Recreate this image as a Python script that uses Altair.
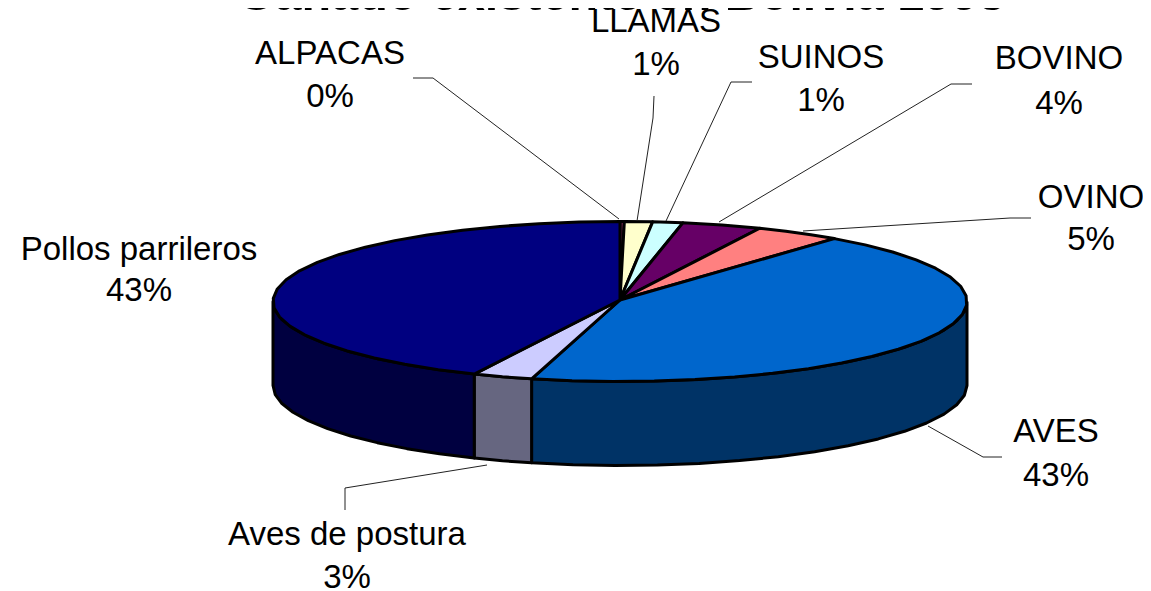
import math
import altair as alt
import pandas as pd

# --- values
categories = ["ALPACAS", "LLAMAS", "SUINOS", "BOVINO", "OVINO", "AVES", "Aves de postura", "Pollos parrileros"]
shares = [0.2, 1.3, 1.4, 3.7, 4.0, 43.5, 2.8, 43.1]
pct_labels = ["0%", "1%", "1%", "4%", "5%", "43%", "3%", "43%"]
top_colors = ["#993366", "#FFFFCC", "#CCFFFF", "#660066", "#FF8080", "#0066CC", "#CCCCFF", "#000080"]
side_colors = ["#4D1A33", "#808066", "#668080", "#330033", "#804040", "#003366", "#666680", "#000040"]

# label anchors (centre x, baseline y of name, baseline y of percentage)
label_x = [330, 656, 821, 1059, 1091, 1056, 347, 139]
name_y = [64, 32, 68, 69, 208, 442, 545, 260]
pct_y = [107, 75, 111, 114, 250, 486, 588, 301]
# leader lines
leaders = [
    [(413, 78), (433, 78), (619, 219)],
    [(654, 96), (653, 118), (637, 221)],
    [(752, 82), (731, 82), (666, 221)],
    [(972, 84), (951, 84), (719, 222)],
    [(1031, 218), (1010, 218), (803, 231)],
    [(1002, 457), (983, 457), (928, 426)],
    [(345, 510), (345, 488), (487, 465)],
]
title_text = "Ganado existente en Bolivia 1998"

# pie geometry
CX, CY, A, B, DEPTH = 620, 301.5, 347, 80, 84
AX, AY = 620, 300
STEP = 7.0


def pt(deg, dy=0.0):
    r = math.radians(deg)
    return CX + A * math.sin(r), CY - B * math.cos(r) + dy


def arc(a0, a1):
    n = max(1, int(math.ceil((a1 - a0) / STEP)))
    return [a0 + (a1 - a0) * i / n for i in range(n + 1)]


tops, walls = [], []
start = 0.0
total = sum(shares)
for cat, s, tc, sc in zip(categories, shares, top_colors, side_colors):
    end = start + 360 * s / total
    poly = [(AX, AY)] + [pt(d) for d in arc(start, end)] + [(AX, AY)]
    for i, (x, y) in enumerate(poly):
        tops.append(dict(k=cat, i=i, x=x, y=y, f=tc))
    a0, a1 = max(start, 90.0), min(end, 270.0)
    if a1 > a0:
        ds = arc(a0, a1)
        poly = [pt(d) for d in ds] + [pt(d, DEPTH) for d in reversed(ds)]
        poly.append(poly[0])
        for i, (x, y) in enumerate(poly):
            walls.append(dict(k=cat, i=i, x=x, y=y, f=sc))
    start = end

W, H = 1135, 583
xs = alt.Scale(domain=[8, 8 + W], range=[0, W], nice=False, zero=False)
ys = alt.Scale(domain=[8, 8 + H], range=[0, H], nice=False, zero=False)
X = lambda f="x": alt.X(f"{f}:Q", scale=xs, axis=None)
Y = lambda f="y": alt.Y(f"{f}:Q", scale=ys, axis=None)


def polys(rows):
    return alt.Chart(pd.DataFrame(rows)).mark_line(
        stroke="black", strokeWidth=3, strokeJoin="round"
    ).encode(
        x=X(), y=Y(), order="i:Q", detail="k:N",
        fill=alt.Fill("f:N", scale=None),
    )


lead_rows = [dict(k=n, i=i, x=p[0], y=p[1]) for n, l in enumerate(leaders) for i, p in enumerate(l)]
lead = alt.Chart(pd.DataFrame(lead_rows)).mark_line(stroke="#222222", strokeWidth=1).encode(
    x=X(), y=Y(), order="i:Q", detail="k:N"
)

text_rows = []
for c, p, lx, ny, py in zip(categories, pct_labels, label_x, name_y, pct_y):
    text_rows.append(dict(t=c, x=lx, y=ny))
    text_rows.append(dict(t=p, x=lx, y=py))
labels = alt.Chart(pd.DataFrame(text_rows)).mark_text(
    font="Liberation Sans", fontSize=33, color="black", align="center", baseline="alphabetic"
).encode(x=X(), y=Y(), text="t:N")

title = alt.Chart(pd.DataFrame([dict(t=title_text, x=621, y=10)])).mark_text(
    font="Liberation Sans", fontSize=48.5, fontWeight="bold", color="black", align="center", baseline="alphabetic"
).encode(x=X(), y=Y(), text="t:N")

chart = alt.layer(polys(walls), polys(tops), lead, title, labels).properties(
    width=W, height=H, padding=0, autosize=alt.AutoSizeParams(type="none"),
    usermeta={"embedOptions": {"defaultStyle": "svg{overflow:visible}"}},
).configure_view(stroke=None)

chart.save("out.html", embed_options={"renderer": "svg", "actions": False})
